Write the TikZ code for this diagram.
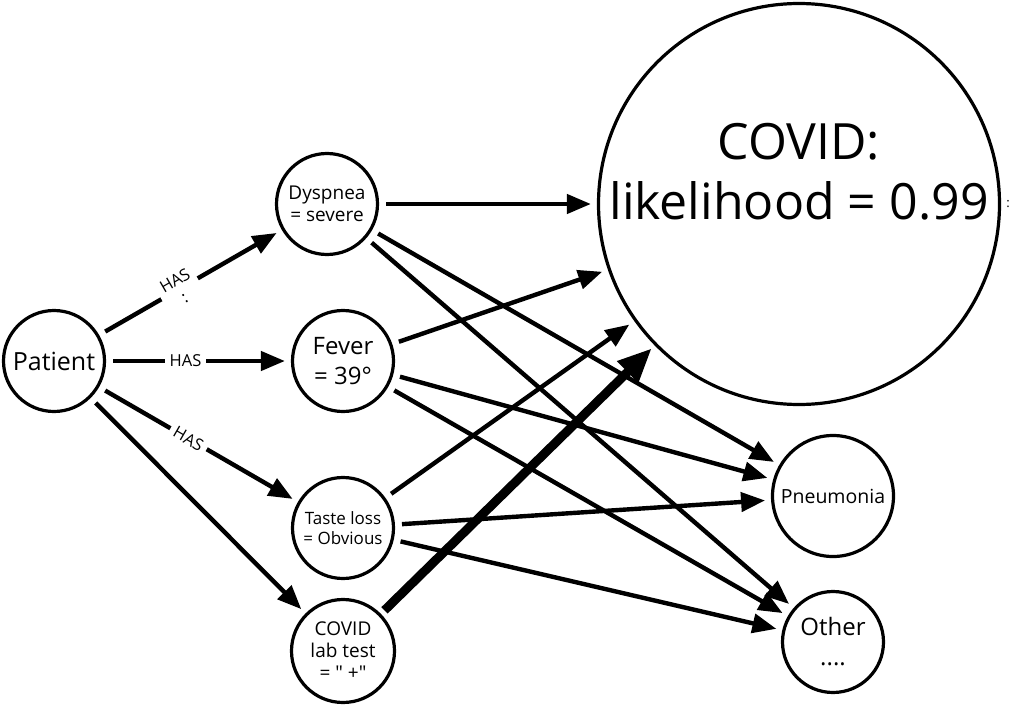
\documentclass[tikz,border=0pt]{standalone}
\usepackage{fontspec}
\setmainfont{Open Sans}
\newfontfamily\plainquote{Open Sans}
\usetikzlibrary{arrows.meta}
\begin{document}
\begin{tikzpicture}[x=1pt,y=-1pt,
  circ/.style={circle, draw, line width=3.2pt, inner sep=0pt, align=center, minimum size=101pt},
  arr/.style={line width=4.4pt, -{Triangle[length=24pt,width=19pt]}, shorten <=7pt, shorten >=6pt},
  thickarr/.style={line width=9pt, -{Triangle[length=34pt,width=28pt]}, shorten <=5pt, shorten >=4pt},
  lbl/.style={font=\fontsize{16.5}{19}\selectfont, fill=white, inner xsep=5pt, inner ysep=1pt, sloped, align=center}
]
\useasboundingbox (0,0) rectangle (1022,706);
\fill[white] (0,0) rectangle (1022,706);

\node[circ, font=\fontsize{25}{30}\selectfont] (patient) at (54,361) {Patient};
\node[circ, font=\fontsize{19}{22}\selectfont] (dysp) at (327,204) {Dyspnea\\= severe};
\node[circ, font=\fontsize{24}{30}\selectfont] (fever) at (343,361) {Fever\\= 39°};
\node[circ, font=\fontsize{17}{20}\selectfont] (taste) at (343,528) {Taste loss\\= Obvious};
\node[circ, minimum size=103pt, font=\fontsize{19}{22}\selectfont] (lab) at (343,651) {COVID\\lab test\\= {\plainquote "} +{\plainquote "}};
\node[circ, minimum size=401pt] (covid) at (799,204) {};
\node[font=\fontsize{50}{60}\selectfont, align=center] (covidlbl) at (799,172) {COVID:\\likelihood = 0.99};
\node[font=\fontsize{13}{15}\selectfont] (colon) at (1008,204) {:};
\node[circ, minimum size=121pt, font=\fontsize{19.5}{23}\selectfont] (pneu) at (833,496) {Pneumonia};
\node[circ, font=\fontsize{24}{30}\selectfont] (other) at (833,642) {Other\\....};

\draw[arr] (patient) -- node[lbl, pos=0.44] {HAS\\:} (dysp);
\draw[arr] (patient) -- node[lbl, pos=0.43] {HAS} (fever);
\draw[arr] (patient) -- node[lbl, pos=0.45] {HAS} (taste);
\draw[arr] (patient) -- (lab);

\draw[arr] (dysp) -- (covid);
\draw[arr] (dysp) -- (pneu);
\draw[arr] (dysp) -- (other);
\draw[arr] (fever) -- (covid);
\draw[arr] (fever) -- (pneu);
\draw[arr] (fever) -- (other);
\draw[arr] (taste) -- (covid);
\draw[arr] (taste) -- (pneu);
\draw[arr] (taste) -- (other);
\draw[thickarr] (lab) -- (covid);
\end{tikzpicture}
\end{document}
